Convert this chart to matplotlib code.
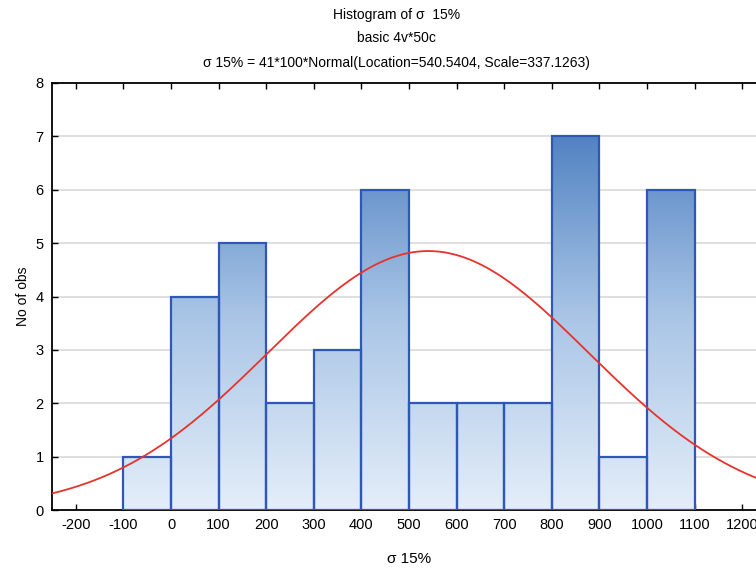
import numpy as np
import matplotlib.pyplot as plt
from matplotlib.colors import LinearSegmentedColormap

# ===== data =====
bin_edges = [-100, 0, 100, 200, 300, 400, 500, 600, 700, 800, 900, 1000, 1100]
counts = [1, 4, 5, 2, 3, 6, 2, 2, 2, 7, 1, 6]
n_obs = 41
bin_width = 100
loc = 540.5404
scale = 337.1263
x_ticks = [-200, -100, 0, 100, 200, 300, 400, 500, 600, 700, 800, 900, 1000, 1100, 1200]
y_ticks = [0, 1, 2, 3, 4, 5, 6, 7, 8]

plt.rcParams['font.family'] = ['Liberation Sans', 'DejaVu Sans']
plt.rcParams['axes.unicode_minus'] = False

fig = plt.figure(figsize=(7.56, 5.7), dpi=100)
ax = fig.add_axes([52 / 756, 60 / 570, 714 / 756, 427 / 570])

# grid
for yv in y_ticks[1:-1]:
    ax.axhline(yv, color="#d9d9d9", lw=1.2, zorder=0)

# gradient bars
cmap = LinearSegmentedColormap.from_list("statblue", ["#e4eef9", "#a9c5e6", "#4a7dbf"])
grad = np.linspace(0, 1, 256).reshape(-1, 1)
for left, right, c in zip(bin_edges[:-1], bin_edges[1:], counts):
    rect = plt.Rectangle((left, 0), right - left, c, facecolor="none",
                         edgecolor="#2f57b8", lw=1.6, zorder=3)
    ax.add_patch(rect)
    im = ax.imshow(grad, extent=(-250, 1250, 0, 7.3), origin="lower", aspect="auto",
                   cmap=cmap, zorder=2, interpolation="bilinear")
    im.set_clip_path(rect)
ax.set_xlim(-250, 1250)
ax.set_ylim(0, 8)

# fitted normal curve
xs = np.linspace(-250, 1250, 400)
ys = n_obs * bin_width * np.exp(-0.5 * ((xs - loc) / scale) ** 2) / (scale * np.sqrt(2 * np.pi))
ax.plot(xs, ys, color="#e8322c", lw=1.3, zorder=4)

ax.set_xticks(x_ticks)
ax.set_yticks(y_ticks)
ax.tick_params(direction="in", length=4, width=1, labelsize=10.5, colors="black", pad=6)
ax.tick_params(axis="x", top=True)
for s in ax.spines.values():
    s.set_linewidth(1.3)

ax.set_xlabel("σ 15%", fontsize=11, labelpad=14)
ax.set_ylabel("No of obs", fontsize=10, labelpad=4)

fig.text(0.525, 0.974, "Histogram of σ  15%", ha="center", va="center", fontsize=10)
fig.text(0.525, 0.933, "basic 4v*50c", ha="center", va="center", fontsize=10)
fig.text(0.525, 0.889, "σ 15% = 41*100*Normal(Location=540.5404, Scale=337.1263)",
         ha="center", va="center", fontsize=10)

fig.savefig("out.png", dpi=100)
plt.close(fig)
